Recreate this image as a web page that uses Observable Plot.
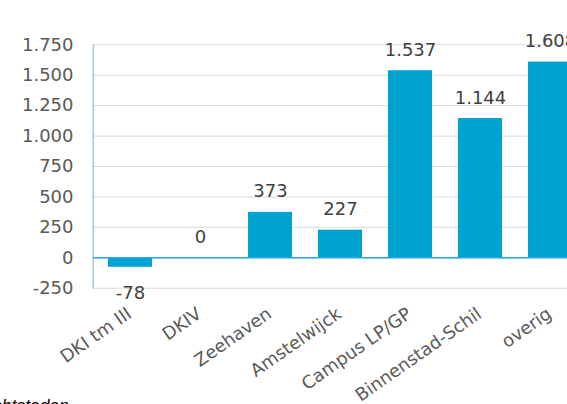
<!DOCTYPE html>
<html>
<head>
<meta charset="utf-8">
<script src="https://cdn.jsdelivr.net/npm/d3@7"></script>
<script src="https://cdn.jsdelivr.net/npm/@observablehq/plot@0.6"></script>
<style>
  html, body { margin: 0; padding: 0; background: #fff; overflow: hidden; width: 567px; height: 404px; }
  #chart { position: absolute; left: 0; top: 0; }
  #caption { position: absolute; top: 397px; right: calc(100% - 69px); white-space: nowrap;
    font: italic 17.5px/18px "Liberation Sans", Arial, sans-serif; color: #000; }
</style>
</head>
<body>
<div id="chart"></div>
<div id="caption">Bron: Onderzoekcentrum Drechtsteden</div>
<script>
const categories = ["DKI tm III", "DKIV", "Zeehaven", "Amstelwijck", "Campus LP/GP", "Binnenstad-Schil", "overig"];
const values = [-78, 0, 373, 227, 1537, 1144, 1608];
const yTicks = [-250, 0, 250, 500, 750, 1000, 1250, 1500, 1750];

const nl = d3.formatLocale({decimal: ",", thousands: ".", grouping: [3], currency: ["€", ""], minus: "-"});
const fmt = nl.format(",d");

const data = categories.map((c, i) => ({cat: c, value: values[i]}));
const font = "DejaVu Sans, Verdana, sans-serif";

const plot = Plot.plot({
  width: 567,
  height: 404,
  marginLeft: 92.7,
  marginRight: -19.9,
  marginTop: 44.3,
  marginBottom: 116.3,
  style: {fontFamily: font, overflow: "visible", background: "transparent"},
  x: {domain: categories, paddingInner: 0.373, paddingOuter: 0.1865, axis: null},
  y: {domain: [-250, 1750], axis: null},
  marks: [
    Plot.ruleY(yTicks, {stroke: "#d9d9d9", strokeWidth: 1}),
    Plot.barY(data, {x: "cat", y: "value", fill: "#00a2d1"}),
    Plot.ruleY([0], {stroke: "#27a6dc", strokeWidth: 1.5}),
    Plot.frame({anchor: "left", stroke: "#6db2e0", strokeWidth: 1}),
    Plot.axisY(yTicks, {tickSize: 0, tickPadding: 19.7, tickFormat: fmt, fontSize: 18, fill: "#595959", label: null}),
    Plot.text(data.filter(d => d.value >= 0), {x: "cat", y: "value", text: d => fmt(d.value), lineAnchor: "bottom", dy: -15, fontSize: 18, fill: "#404040"}),
    Plot.text(data.filter(d => d.value < 0), {x: "cat", y: "value", text: d => fmt(d.value), lineAnchor: "bottom", dy: 32, fontSize: 18, fill: "#404040"}),
    Plot.text(categories, {x: d => d, frameAnchor: "bottom", rotate: -35, textAnchor: "end", lineAnchor: "top", dy: 18, dx: -5, fontSize: 17.8, fill: "#595959"})
  ]
});
document.getElementById("chart").appendChild(plot);
</script>
</body>
</html>
